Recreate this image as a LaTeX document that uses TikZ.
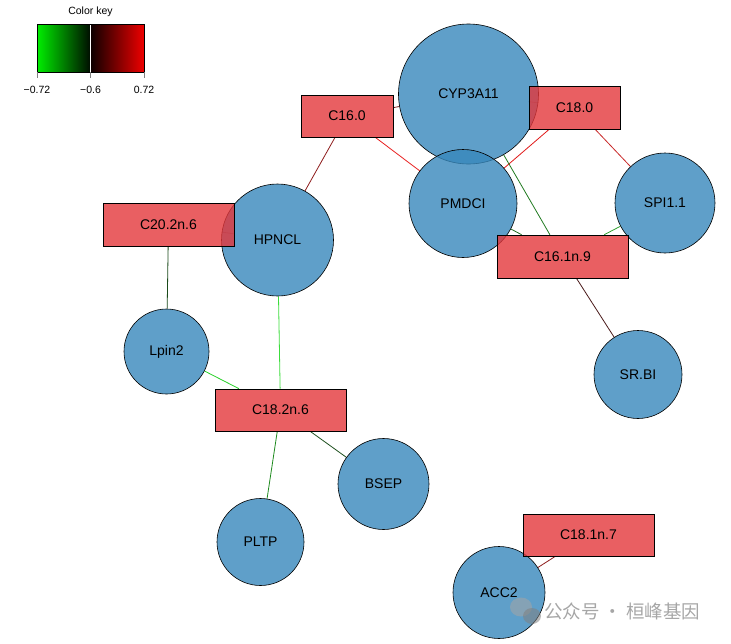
\documentclass[tikz,border=0pt]{standalone}
\usepackage{fontspec}
\usetikzlibrary{backgrounds}
\setmainfont{Liberation Sans}
\newfontfamily\cjk{Noto Sans CJK SC}
\definecolor{nodeblue}{HTML}{3787BB}
\definecolor{nodered}{HTML}{E3373B}
\definecolor{eA}{HTML}{7A1F1F}
\definecolor{eB}{HTML}{E82020}
\definecolor{eC}{HTML}{8E1C1C}
\definecolor{eD}{HTML}{E01818}
\definecolor{eE}{HTML}{C82828}
\definecolor{eF}{HTML}{207A20}
\definecolor{eG}{HTML}{1E6A1E}
\definecolor{eH}{HTML}{30A030}
\definecolor{eI}{HTML}{4A1A1A}
\definecolor{eJ}{HTML}{1A4A1A}
\definecolor{eK}{HTML}{3CDC3C}
\definecolor{eL}{HTML}{28D028}
\definecolor{eM}{HTML}{1E8A1E}
\definecolor{eN}{HTML}{1E501E}
\definecolor{keygreen}{HTML}{00EE00}
\definecolor{keyred}{HTML}{EE0000}
\begin{document}
\begin{tikzpicture}[x=1pt,y=-1pt,
  gene/.style={circle,draw=black,line width=0.6pt,fill=nodeblue,fill opacity=0.8,text opacity=1,inner sep=0pt,font=\fontsize{14}{16}\selectfont},
  lipid/.style={rectangle,draw=black,line width=0.6pt,fill=nodered,fill opacity=0.8,text opacity=1,inner sep=0pt,minimum height=42pt,font=\fontsize{14}{16}\selectfont},
  edge/.style={line width=0.8pt},
  keylabel/.style={font=\fontsize{10.5}{12}\selectfont,inner sep=0pt},
  keytick/.style={draw=gray,line width=0.8pt}]
\useasboundingbox (0,0) rectangle (731,643);
% genes
\node[gene,minimum size=140pt] (cyp) at (468.5,94) {CYP3A11};
\node[gene,minimum size=108pt] (pmdci) at (463,203.5) {PMDCI};
\node[gene,minimum size=100pt] (spi) at (665,203) {SPI1.1};
\node[gene,minimum size=112pt] (hpncl) at (277.5,240) {HPNCL};
\node[gene,minimum size=85pt] (lpin) at (166.5,351.5) {Lpin2};
\node[gene,minimum size=88pt] (srbi) at (638,374.5) {SR.BI};
\node[gene,minimum size=91pt] (bsep) at (383.5,484) {BSEP};
\node[gene,minimum size=87pt] (pltp) at (260.5,542) {PLTP};
\node[gene,minimum size=92pt] (acc) at (499,592.5) {ACC2};
% lipids
\node[lipid,minimum width=92pt] (c160) at (347,116) {C16.0};
\node[lipid,minimum width=91pt,minimum height=43pt] (c180) at (574.5,107.5) {C18.0};
\node[lipid,minimum width=131pt,minimum height=43pt] (c161) at (562.5,256.5) {C16.1n.9};
\node[lipid,minimum width=131pt,minimum height=43pt] (c202) at (168.5,224.5) {C20.2n.6};
\node[lipid,minimum width=131pt] (c182) at (280.5,410) {C18.2n.6};
\node[lipid,minimum width=131pt] (c181) at (588.5,535) {C18.1n.7};
% edges (drawn behind nodes)
\begin{pgfonlayer}{background}
\draw[edge,eA] (c160) -- (cyp);
\draw[edge,eB] (c160) -- (pmdci);
\draw[edge,eC] (c160) -- (hpncl);
\draw[edge,eD] (c180) -- (pmdci);
\draw[edge,eE] (c180) -- (spi);
\draw[edge,eE] (c180) -- (cyp);
\draw[edge,eF] (cyp) -- (c161);
\draw[edge,eG] (pmdci) -- (c161);
\draw[edge,eH] (spi) -- (c161);
\draw[edge,eI] (c161) -- (srbi);
\draw[edge,eC] (c202) -- (hpncl);
\draw[edge,eJ] (c202) -- (lpin);
\draw[edge,eK] (hpncl) -- (c182);
\draw[edge,eL] (lpin) -- (c182);
\draw[edge,eM] (c182) -- (pltp);
\draw[edge,eN] (c182) -- (bsep);
\draw[edge,eC] (c181) -- (acc);
\end{pgfonlayer}
% color key
\node[keylabel] (keytitle) at (90.5,12) {Color key};
\shade[left color=keygreen,right color=black!95!green] (37,24) rectangle (90.5,72);
\shade[left color=black!95!red,right color=keyred] (90.5,24) rectangle (144,72);
\draw[white,line width=1.4pt] (90.5,24) -- (90.5,72);
\draw[black,line width=0.7pt] (37,24) rectangle (144,72);
\draw[keytick] (37,72) -- (37,78);
\draw[keytick,line width=1.6pt] (90.5,72) -- (90.5,78);
\draw[keytick] (144,72) -- (144,78);
\node[keylabel] (kl1) at (37,90) {−0.72};
\node[keylabel] (kl2) at (90.5,90) {−0.6};
\node[keylabel] (kl3) at (144,90) {0.72};
% watermark
\begin{scope}[opacity=0.55]
\fill[gray!70] (521,607) ellipse (11pt and 9.5pt);
\fill[gray] (532,616) ellipse (9pt and 8pt);
\end{scope}
\node[font=\cjk\fontsize{18.5}{22}\selectfont,text=gray!70,inner sep=0pt,anchor=west] (wm) at (544,611) {公众号 · 桓峰基因};
\end{tikzpicture}
\end{document}
